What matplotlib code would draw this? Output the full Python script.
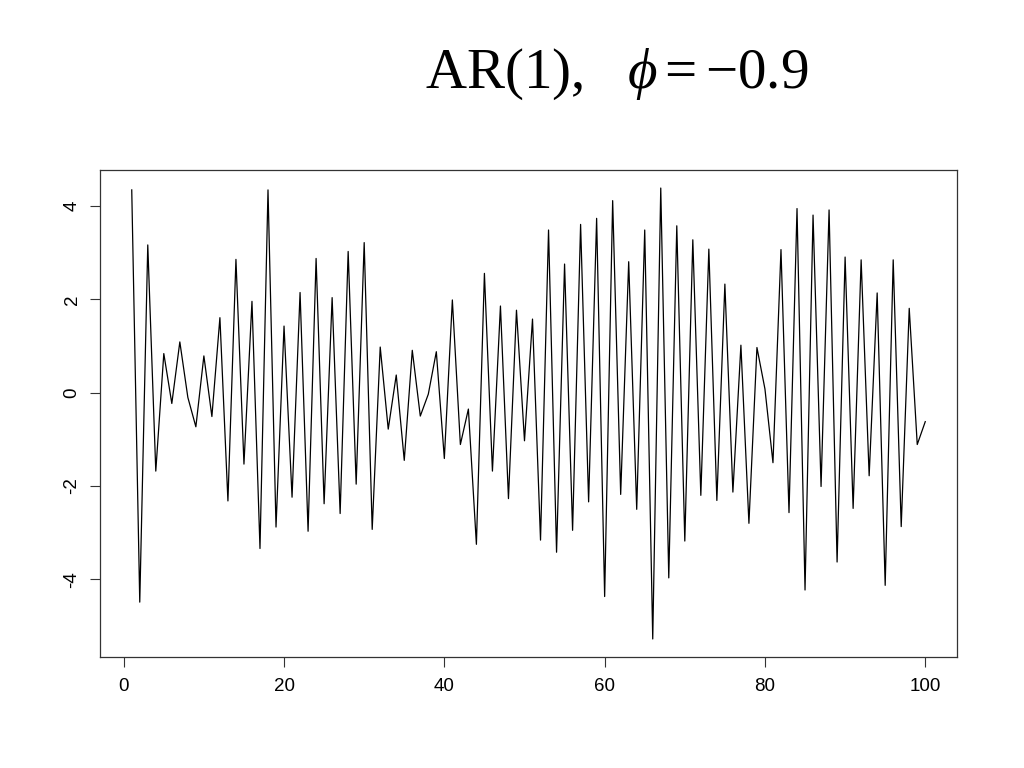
import numpy as np
import matplotlib
matplotlib.use("Agg")
import matplotlib.pyplot as plt

# AR(1) series, phi = -0.9
t = np.arange(1, 101)
x = [4.35, -4.49, 3.17, -1.68, 0.84, -0.23, 1.09, -0.10, -0.73, 0.79,
     -0.51, 1.61, -2.32, 2.86, -1.53, 1.96, -3.34, 4.35, -2.88, 1.43,
     -2.24, 2.15, -2.97, 2.88, -2.38, 2.04, -2.59, 3.03, -1.96, 3.22,
     -2.93, 0.98, -0.78, 0.38, -1.45, 0.91, -0.50, -0.03, 0.88, -1.41,
     1.99, -1.11, -0.35, -3.25, 2.56, -1.68, 1.86, -2.27, 1.77, -1.03,
     1.58, -3.16, 3.49, -3.42, 2.76, -2.95, 3.61, -2.34, 3.74, -4.37,
     4.12, -2.18, 2.81, -2.50, 3.49, -5.28, 4.39, -3.97, 3.58, -3.18,
     3.28, -2.20, 3.08, -2.31, 2.33, -2.13, 1.02, -2.80, 0.97, 0.08,
     -1.50, 3.07, -2.57, 3.95, -4.23, 3.81, -2.01, 3.92, -3.63, 2.91,
     -2.48, 2.85, -1.78, 2.14, -4.13, 2.85, -2.87, 1.81, -1.11, -0.62]
xticks = [0, 20, 40, 60, 80, 100]
yticks = [-4, -2, 0, 2, 4]

plt.rcParams['mathtext.fontset'] = 'custom'
plt.rcParams['mathtext.rm'] = 'Liberation Serif'
plt.rcParams['mathtext.it'] = 'Liberation Serif:italic'

fig = plt.figure(figsize=(10.24, 7.68), dpi=100)
ax = fig.add_axes([100/1024, 1 - 657/768, 857/1024, 487/768])

ax.plot(t, x, color='black', linewidth=0.9)

# R-style 4% padding
xr = max(t) - min(t)
yr = max(x) - min(x)
ax.set_xlim(min(t) - 0.04*xr, max(t) + 0.04*xr)
ax.set_ylim(min(x) - 0.04*yr, max(x) + 0.04*yr)

ax.set_xticks(xticks)
ax.set_yticks(yticks)
ax.set_xticklabels([str(v) for v in xticks], family='Liberation Sans', fontsize=13.5)
ax.set_yticklabels([str(v) for v in yticks],
                   family='Liberation Sans', fontsize=13.5, rotation=90, va='center')
ax.tick_params(length=7, width=0.8, color='#333333')
ax.tick_params(axis='x', pad=8)
ax.tick_params(axis='y', pad=7)
for s in ax.spines.values():
    s.set_linewidth(0.9)
    s.set_color('#333333')

fig.text(425/1024, 1 - 88/768, r'AR(1),  $\ \phi = -0.9$',
         family='Liberation Serif', fontsize=41, ha='left', va='baseline')

fig.savefig('out.png', dpi=100)
